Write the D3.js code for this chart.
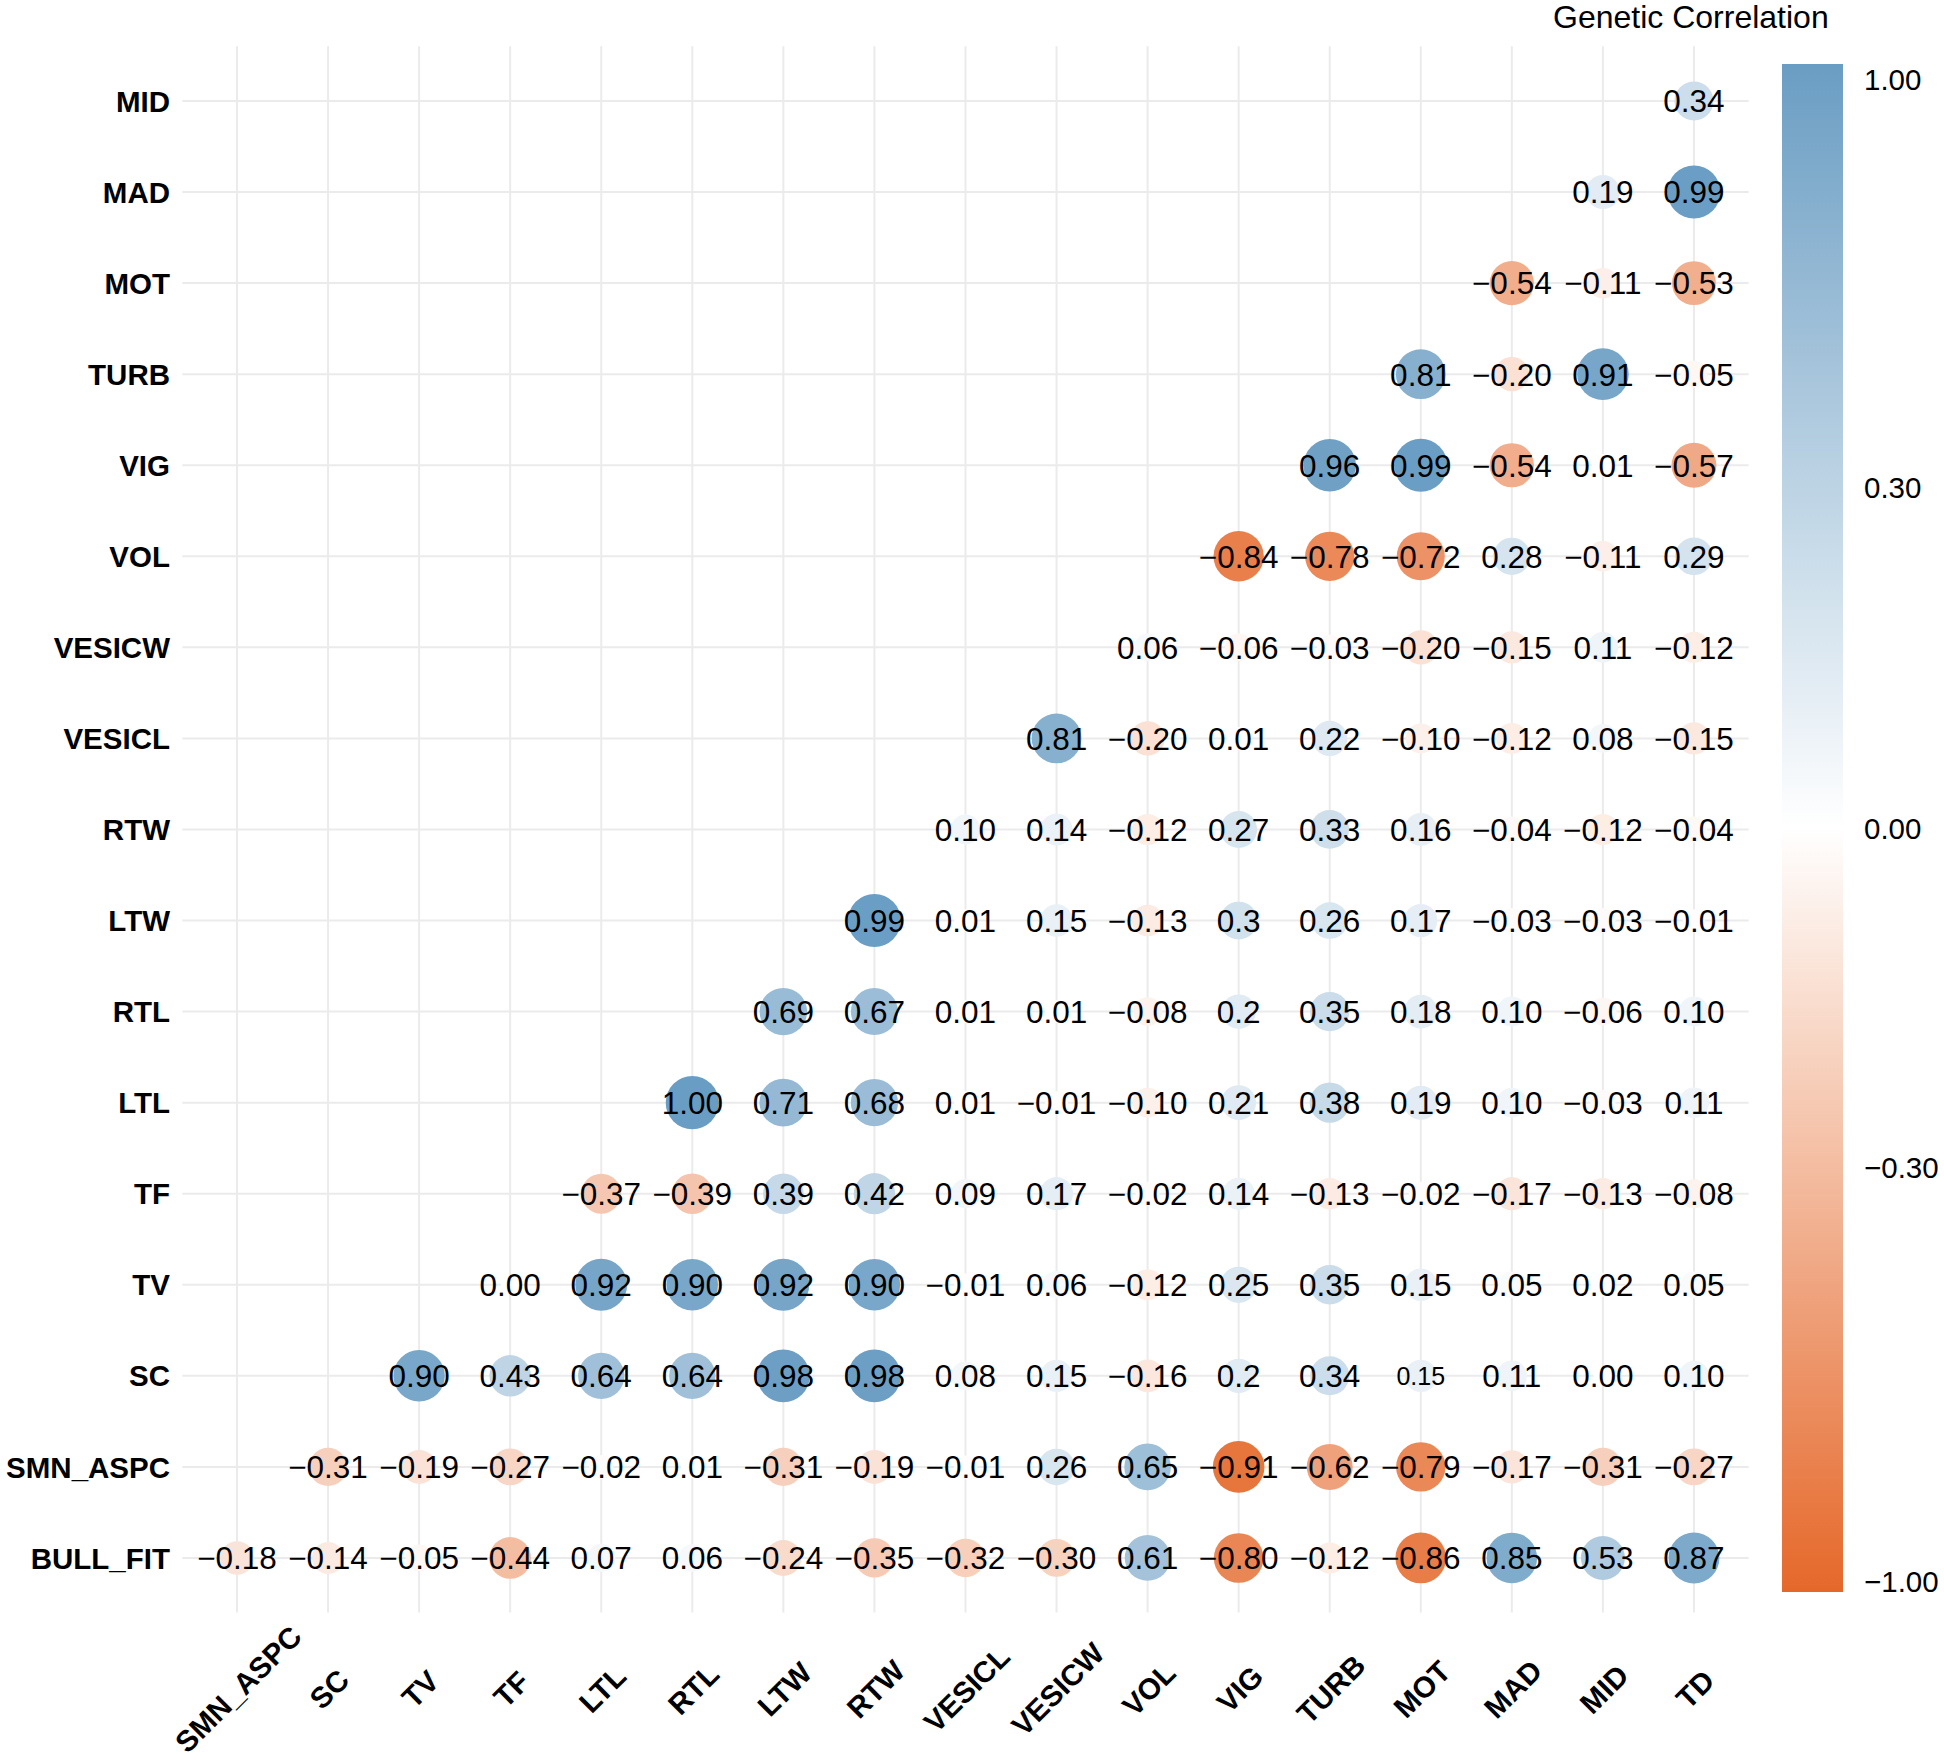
<!DOCTYPE html>
<html>
<head>
<meta charset="utf-8">
<script src="https://cdn.jsdelivr.net/npm/d3@7"></script>
<style>
  body{margin:0;background:#fff;}
  svg{display:block;font-family:"Liberation Sans",Arial,sans-serif;}
</style>
</head>
<body>
<div id="grafico"></div>
<script>
// variaveis na ordem da matriz
const variaveis = ['BULL_FIT','SMN_ASPC','SC','TV','TF','LTL','RTL','LTW','RTW','VESICL','VESICW','VOL','VIG','TURB','MOT','MAD','MID','TD'];

// uma lista por linha (colunas a partir da variavel seguinte)
const rBULL_FIT = ['-0.18','-0.14','-0.05','-0.44','0.07','0.06','-0.24','-0.35','-0.32','-0.30','0.61','-0.80','-0.12','-0.86','0.85','0.53','0.87'];
const rSMN_ASPC = ['-0.31','-0.19','-0.27','-0.02','0.01','-0.31','-0.19','-0.01','0.26','0.65','-0.91','-0.62','-0.79','-0.17','-0.31','-0.27'];
const rSC = ['0.90','0.43','0.64','0.64','0.98','0.98','0.08','0.15','-0.16','0.2','0.34','0.15','0.11','0.00','0.10'];
const rTV = ['0.00','0.92','0.90','0.92','0.90','-0.01','0.06','-0.12','0.25','0.35','0.15','0.05','0.02','0.05'];
const rTF = ['-0.37','-0.39','0.39','0.42','0.09','0.17','-0.02','0.14','-0.13','-0.02','-0.17','-0.13','-0.08'];
const rLTL = ['1.00','0.71','0.68','0.01','-0.01','-0.10','0.21','0.38','0.19','0.10','-0.03','0.11'];
const rRTL = ['0.69','0.67','0.01','0.01','-0.08','0.2','0.35','0.18','0.10','-0.06','0.10'];
const rLTW = ['0.99','0.01','0.15','-0.13','0.3','0.26','0.17','-0.03','-0.03','-0.01'];
const rRTW = ['0.10','0.14','-0.12','0.27','0.33','0.16','-0.04','-0.12','-0.04'];
const rVESICL = ['0.81','-0.20','0.01','0.22','-0.10','-0.12','0.08','-0.15'];
const rVESICW = ['0.06','-0.06','-0.03','-0.20','-0.15','0.11','-0.12'];
const rVOL = ['-0.84','-0.78','-0.72','0.28','-0.11','0.29'];
const rVIG = ['0.96','0.99','-0.54','0.01','-0.57'];
const rTURB = ['0.81','-0.20','0.91','-0.05'];
const rMOT = ['-0.54','-0.11','-0.53'];
const rMAD = ['0.19','0.99'];
const rMID = ['0.34'];

const linhas = [rBULL_FIT,rSMN_ASPC,rSC,rTV,rTF,rLTL,rRTL,rLTW,rRTW,rVESICL,rVESICW,rVOL,rVIG,rTURB,rMOT,rMAD,rMID];
const rotulosMenores = [['SC','MOT']]; // esse aparece menor na figura

const legendaTicks = [1, 0.3, 0, -0.3, -1];
const legendaTitulo = 'Genetic Correlation';

const largura = 1944, altura = 1761;
const svg = d3.select('#grafico').append('svg')
  .attr('width', largura).attr('height', altura);

const nomesY = variaveis.slice(0, 17); // de baixo pra cima
const nomesX = variaveis.slice(1);

const passo = 91.06;
const x = d3.scalePoint().domain(nomesX).range([237, 237 + 16*passo]);
const y = d3.scalePoint().domain(nomesY.slice().reverse()).range([101, 101 + 16*passo]);

const x0 = 237 - 0.6*passo, x1 = 237 + 16.6*passo;
const y0 = 101 - 0.6*passo, y1 = 101 + 16.6*passo;

// monta as celulas
const celulas = [];
linhas.forEach((lista, i) => {
  lista.forEach((txt, k) => {
    const lin = variaveis[i], col = variaveis[i + 1 + k];
    celulas.push({lin: lin, col: col, txt: txt, v: +txt,
      menor: rotulosMenores.some(d => d[0] === lin && d[1] === col)});
  });
});

const cor = d3.scaleLinear().domain([-1, 0, 1]).range(['#e5682a', '#ffffff', '#6a9dc3']);
const raio = d3.scaleSqrt().domain([0, 1]).range([9.6, 26.6]);

// grade
const grade = svg.append('g');
grade.selectAll('.gh').data(nomesY).join('line')
  .attr('x1', x0).attr('x2', x1)
  .attr('y1', d => y(d)).attr('y2', d => y(d))
  .attr('stroke', '#ebebeb').attr('stroke-width', 2);
grade.selectAll('.gv').data(nomesX).join('line')
  .attr('x1', d => x(d)).attr('x2', d => x(d))
  .attr('y1', y0).attr('y2', y1)
  .attr('stroke', '#ebebeb').attr('stroke-width', 2);

// circulos
svg.append('g').selectAll('circle').data(celulas).join('circle')
  .attr('cx', d => x(d.col)).attr('cy', d => y(d.lin))
  .attr('r', d => raio(Math.abs(d.v)))
  .attr('fill', d => cor(d.v));

// numeros
svg.append('g').selectAll('text').data(celulas).join('text')
  .attr('x', d => x(d.col)).attr('y', d => y(d.lin))
  .attr('dy', '0.36em')
  .attr('text-anchor', 'middle')
  .attr('font-size', d => d.menor ? 25 : 31.5)
  .attr('fill', '#000')
  .text(d => d.txt.replace('-', '\u2212'));

// eixo y
svg.append('g').selectAll('text').data(nomesY).join('text')
  .attr('x', 170).attr('y', d => y(d))
  .attr('dy', '0.36em')
  .attr('text-anchor', 'end')
  .attr('font-weight', 'bold').attr('font-size', 29.5)
  .text(d => d);

// eixo x, girado 45 e centrado na coluna
svg.append('g').selectAll('text').data(nomesX).join('text')
  .attr('transform', d => 'translate(' + (x(d) + 1) + ',' + 1689 + ') rotate(-45)')
  .attr('dy', '0.36em')
  .attr('text-anchor', 'middle')
  .attr('font-weight', 'bold').attr('font-size', 29.5)
  .text(d => d);

// legenda
const barraX = 1782, barraL = 61, barraTopo = 64, barraBase = 1592;
const grad = svg.append('defs').append('linearGradient')
  .attr('id', 'gradCor').attr('x1', 0).attr('x2', 0).attr('y1', 0).attr('y2', 1);
d3.range(0, 1.0001, 0.05).forEach(t => {
  grad.append('stop').attr('offset', t).attr('stop-color', cor(1 - 2*t));
});
svg.append('rect')
  .attr('x', barraX).attr('y', barraTopo)
  .attr('width', barraL).attr('height', barraBase - barraTopo)
  .attr('fill', 'url(#gradCor)');

// posicao dos rotulos da barra (nao linear como na figura)
const hB = barraBase - barraTopo;
const legY = d3.scaleLinear()
  .domain([-1, -0.3, 0, 0.3, 1])
  .range([barraTopo + 0.993*hB, barraTopo + 0.722*hB, barraTopo + 0.5*hB, barraTopo + 0.277*hB, barraTopo + 0.010*hB]);
svg.append('g').selectAll('text').data(legendaTicks).join('text')
  .attr('x', 1864).attr('y', d => legY(d))
  .attr('dy', '0.36em')
  .attr('font-size', 29.5)
  .text(d => d3.format('.2f')(d));

svg.append('text')
  .attr('x', 1553).attr('y', 28)
  .attr('font-size', 32)
  .text(legendaTitulo);
</script>
</body>
</html>
